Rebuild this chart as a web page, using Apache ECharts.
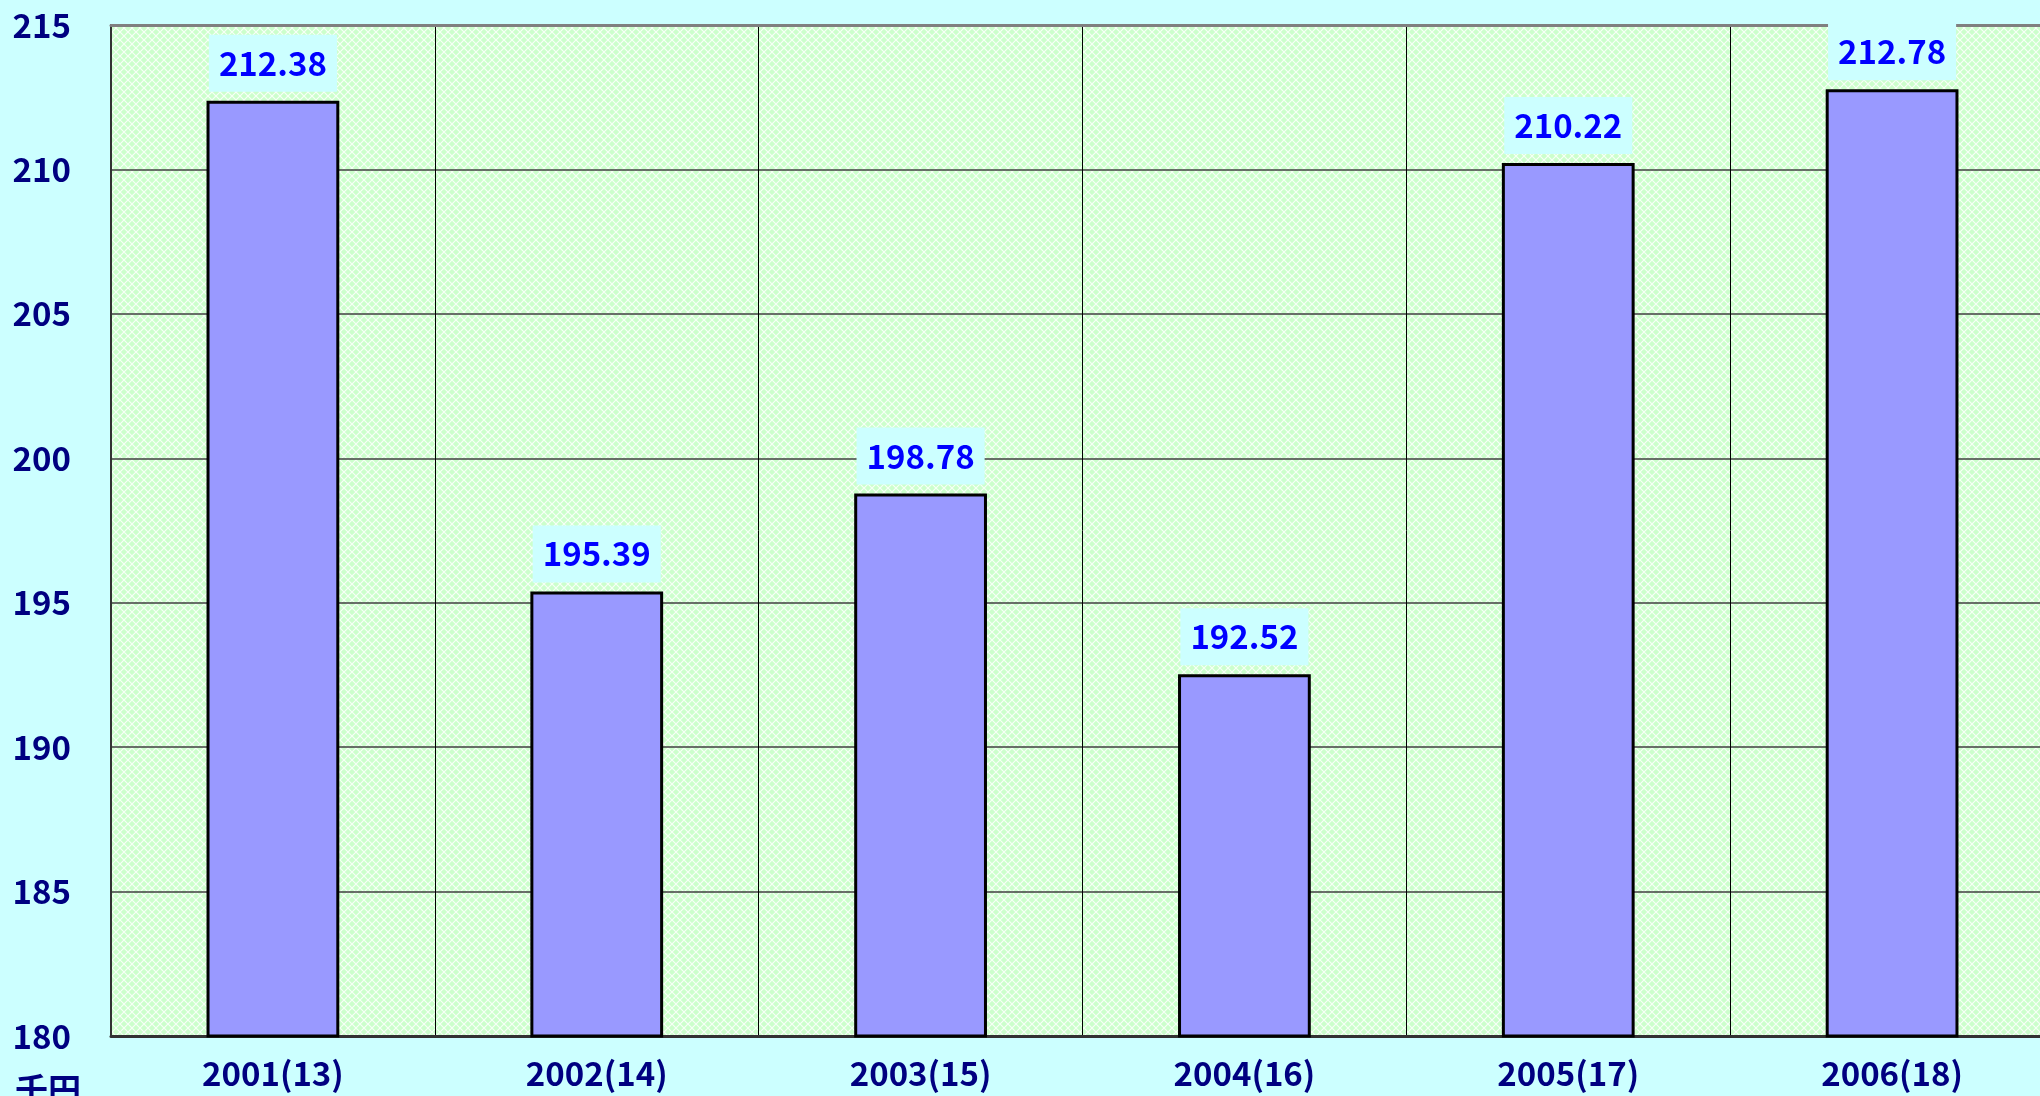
<!DOCTYPE html>
<html>
<head>
<meta charset="utf-8">
<script src="https://cdn.jsdelivr.net/npm/echarts@6/dist/echarts.min.js"></script>
<style>
  html, body { margin: 0; padding: 0; background: #CCFFFF; }
  #main { width: 2040px; height: 1096px; }
</style>
</head>
<body>
<div id="main"></div>
<script>
// 年度（平成）
var categories = ['2001(13)', '2002(14)', '2003(15)', '2004(16)', '2005(17)', '2006(18)'];
// 千円
var values = [212.38, 195.39, 198.78, 192.52, 210.22, 212.78];
var yMin = 180, yMax = 215, yStep = 5;
var unitLabel = '千円';

var FONT = '"Noto Sans CJK JP", "Noto Sans", sans-serif';

// 網掛けの背景パターン
function makePattern() {
  var c = document.createElement('canvas');
  c.width = 8; c.height = 8;
  var g = c.getContext('2d');
  g.fillStyle = '#ccffcc';
  g.fillRect(0, 0, 8, 8);
  g.strokeStyle = 'rgba(255,255,255,0.85)';
  g.lineWidth = 1.2;
  g.beginPath();
  g.moveTo(0, 0); g.lineTo(8, 8);
  g.moveTo(8, 0); g.lineTo(0, 8);
  g.stroke();
  return c;
}

var chart = echarts.init(document.getElementById('main'));
var option = {
  backgroundColor: '#CCFFFF',
  animation: false,
  grid: {
    left: 111,
    top: 25,
    width: 1943,   // 右端は画面の外まで続く
    bottom: 60,
    outerBoundsMode: 'none',
    containLabel: false,
    show: true,
    borderWidth: 0,
    backgroundColor: { image: makePattern(), repeat: 'repeat' }
  },
  xAxis: [{
    type: 'category',
    data: categories,
    axisLine: { lineStyle: { color: '#333333', width: 3 } },
    axisTick: { show: false },
    splitLine: { show: true, lineStyle: { color: '#000000', width: 1 } },
    axisLabel: {
      color: '#000080',
      fontFamily: FONT,
      fontWeight: 'bold',
      fontSize: 33,
      margin: 21
    }
  }, {
    type: 'category',
    position: 'top',
    data: categories,
    axisLine: { lineStyle: { color: '#808080', width: 3 } },
    axisTick: { show: false },
    axisLabel: { show: false },
    splitLine: { show: false }
  }],
  yAxis: {
    type: 'value',
    min: yMin,
    max: yMax,
    interval: yStep,
    axisLine: { show: true, lineStyle: { color: '#333333', width: 2 } },
    axisTick: { show: false },
    splitLine: { lineStyle: { color: '#404040', width: 1.5 } },
    axisLabel: {
      color: '#000080',
      fontFamily: FONT,
      fontWeight: 'bold',
      fontSize: 33,
      margin: 40
    }
  },
  graphic: [{
    type: 'text',
    left: 15,
    top: 1073,
    style: {
      text: unitLabel,
      fill: '#000080',
      font: 'bold 33px ' + FONT
    }
  }],
  series: [{
    type: 'bar',
    data: values,
    barWidth: '41%',
    itemStyle: {
      color: '#9999FF',
      borderColor: '#000000',
      borderWidth: 3
    },
    label: {
      show: true,
      position: 'top',
      distance: 9,
      color: '#0000FF',
      fontFamily: FONT,
      fontWeight: 'bold',
      fontSize: 33,
      backgroundColor: '#CCFFFF',
      padding: [12, 10, 12, 10],
      formatter: function (p) { return p.value.toFixed(2); }
    }
  }]
};
chart.setOption(option);
</script>
</body>
</html>
